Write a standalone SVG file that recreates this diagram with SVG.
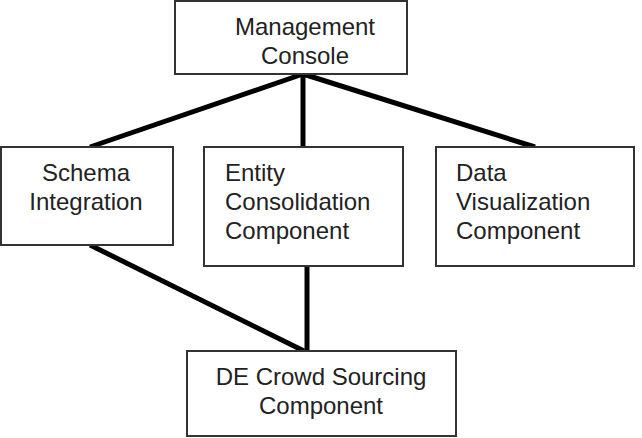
<svg xmlns="http://www.w3.org/2000/svg" width="642" height="438" viewBox="0 0 642 438">
<style>
.box{fill:#fff;stroke:#333;stroke-width:2}
.t{font-family:"Liberation Sans",Arial,sans-serif;font-size:24px;fill:#222}
.c{text-anchor:middle}
.edge{stroke:#000;stroke-width:5;stroke-linecap:butt;fill:none}
</style>
<rect width="642" height="438" fill="#fff"/>
<g id="connectors">
<line class="edge" x1="303" y1="74" x2="90" y2="147"/>
<line class="edge" x1="303" y1="74" x2="303" y2="147"/>
<line class="edge" x1="303" y1="74" x2="535" y2="147"/>
<line class="edge" x1="90" y1="245" x2="304" y2="351"/>
<line class="edge" x1="307" y1="266" x2="307" y2="351"/>
</g>
<g id="management-console">
<rect class="box" x="175" y="1" width="232" height="73"/>
<text class="t c" x="305" y="35">Management</text>
<text class="t c" x="305" y="64">Console</text>
</g>
<g id="schema-integration">
<rect class="box" x="1" y="147" width="172" height="98"/>
<text class="t c" x="86" y="181">Schema</text>
<text class="t c" x="86" y="210">Integration</text>
</g>
<g id="entity-consolidation">
<rect class="box" x="204" y="147" width="199" height="119"/>
<text class="t" x="225" y="181">Entity</text>
<text class="t" x="225" y="210">Consolidation</text>
<text class="t" x="225" y="239">Component</text>
</g>
<g id="data-visualization">
<rect class="box" x="436" y="147" width="198" height="119"/>
<text class="t" x="456" y="181">Data</text>
<text class="t" x="456" y="210">Visualization</text>
<text class="t" x="456" y="239">Component</text>
</g>
<g id="de-crowd-sourcing">
<rect class="box" x="187" y="351" width="269" height="85"/>
<text class="t c" x="321" y="385">DE Crowd Sourcing</text>
<text class="t c" x="321" y="414">Component</text>
</g>
</svg>
